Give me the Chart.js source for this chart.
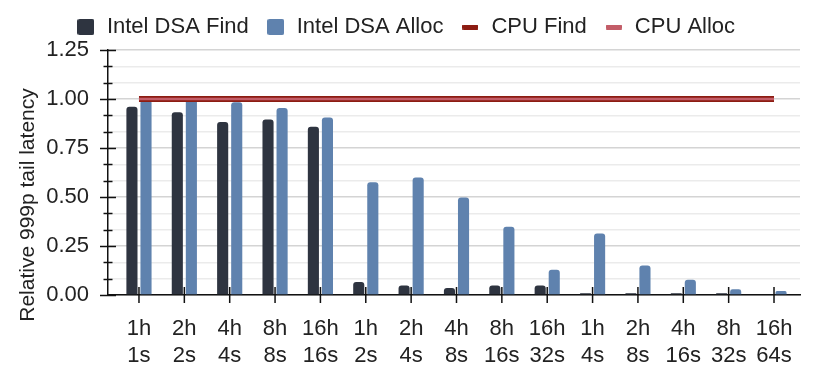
<!DOCTYPE html>
<html><head><meta charset="utf-8">
<script src="https://cdn.jsdelivr.net/npm/chart.js@4/dist/chart.umd.min.js"></script>
<style>html,body{margin:0;padding:0;background:#fff}</style>
</head><body>
<canvas id="c" width="814" height="387" style="display:block;width:814px;height:387px"></canvas>
<script>
// ---- data ----
const hosts  = ['1h','2h','4h','8h','16h','1h','2h','4h','8h','16h','1h','2h','4h','8h','16h'];
const shards = ['1s','2s','4s','8s','16s','2s','4s','8s','16s','32s','4s','8s','16s','32s','64s'];
const dsaFind  = [0.961,0.932,0.883,0.896,0.859,0.066,0.049,0.036,0.049,0.049,0.009,0.009,0.009,0.009,0.000];
const dsaAlloc = [0.995,0.998,0.983,0.954,0.905,0.575,0.600,0.498,0.348,0.129,0.314,0.150,0.078,0.029,0.020];
const cpuFind  = [1,1,1,1,1,1,1,1,1,1,1,1,1,1,1];
const cpuAlloc = [1,1,1,1,1,1,1,1,1,1,1,1,1,1,1];
const seriesNames = ['Intel DSA Find','Intel DSA Alloc','CPU Find','CPU Alloc'];
const yMajorTicks = [0,0.25,0.5,0.75,1.0,1.25];
const yTitleText = 'Relative 999p tail latency';

const FONT = '"Liberation Sans", Arial, sans-serif';
const TEXT = '#222';
const C_FIND = '#2e3440', C_ALLOC = '#5f82ae', C_CPUF = '#8c1c12', C_CPUA = '#c35d68';

function marker(w, h, color, r) {
  const c = document.createElement('canvas');
  c.width = w; c.height = h;
  const g = c.getContext('2d');
  g.fillStyle = color;
  g.beginPath();
  if (g.roundRect) g.roundRect(0, 0, w, h, r); else g.rect(0, 0, w, h);
  g.fill();
  return c;
}
const markers = [marker(17,16,C_FIND,2), marker(17,16,C_ALLOC,2), marker(16,5,C_CPUF,1), marker(16,5,C_CPUA,1)];

const isMajor = v => yMajorTicks.some(m => Math.abs(m - v) < 1e-6);

const axisTicks = {
  id: 'axisTicks',
  afterDatasetsDraw(chart) {
    const {ctx, scales: {x, y}, chartArea: a} = chart;
    ctx.save();
    ctx.strokeStyle = '#111';
    ctx.lineWidth = 1.5;
    y.ticks.forEach(t => {
      const py = Math.round(y.getPixelForValue(t.value)) + 0.5;
      const h = isMajor(t.value) ? 8 : 4.5;
      ctx.beginPath(); ctx.moveTo(a.left - h, py); ctx.lineTo(a.left + h, py); ctx.stroke();
    });
    x.ticks.forEach((t, i) => {
      const px = x.getPixelForTick(i);
      ctx.beginPath(); ctx.moveTo(px, a.bottom - 8); ctx.lineTo(px, a.bottom + 8); ctx.stroke();
    });
    ctx.restore();
  }
};

const yTitle = {
  id: 'yTitle',
  afterDraw(chart) {
    const {ctx, chartArea: a} = chart;
    ctx.save();
    ctx.translate(28, a.bottom - 90);
    ctx.rotate(-Math.PI / 2);
    ctx.font = '21px ' + FONT;
    ctx.fillStyle = TEXT;
    ctx.textAlign = 'center';
    ctx.textBaseline = 'middle';
    ctx.fillText(yTitleText, 0, 0);
    ctx.restore();
  }
};

// small spacer box between legend and plot area
const spacer = {
  id: 'spacer',
  start(chart) {
    const box = {
      position: 'top', weight: 500, fullSize: true, options: {},
      left: 0, top: 0, right: 0, bottom: 0, width: 0, height: 0,
      update(maxW) { this.width = maxW; this.height = 2; },
      isHorizontal() { return true; },
      getPadding() { return {left: 0, right: 0, top: 0, bottom: 0}; },
      draw() {}
    };
    Chart.layouts.addBox(chart, box);
  }
};

const barCommon = {
  order: 2, categoryPercentage: 0.62, barPercentage: 0.79,
  borderRadius: {topLeft: 3, topRight: 3, bottomLeft: 0, bottomRight: 0},
  borderSkipped: 'bottom', borderWidth: 0
};

new Chart(document.getElementById('c'), {
  type: 'bar',
  data: {
    labels: hosts.map((h, i) => [h, shards[i]]),
    datasets: [
      Object.assign({label: seriesNames[0], data: dsaFind, backgroundColor: C_FIND}, barCommon),
      Object.assign({label: seriesNames[1], data: dsaAlloc, backgroundColor: C_ALLOC}, barCommon),
      {type: 'line', label: seriesNames[2], data: cpuFind, borderColor: C_CPUF, borderWidth: 6, pointRadius: 0, order: 1, borderCapStyle: 'butt'},
      {type: 'line', label: seriesNames[3], data: cpuAlloc, borderColor: C_CPUA, borderWidth: 2.5, pointRadius: 0, order: 0, borderCapStyle: 'butt'}
    ]
  },
  options: {
    responsive: false, animation: false, devicePixelRatio: 1,
    layout: {padding: {left: 11, right: 14, top: -1, bottom: 0}},
    plugins: {
      tooltip: {enabled: false},
      legend: {
        position: 'top',
        labels: {
          usePointStyle: true, boxWidth: 20, boxHeight: 20, padding: 17,
          font: {size: 22, family: FONT}, color: TEXT,
          generateLabels: chart => chart.data.datasets.map((d, i) => ({
            text: d.label, pointStyle: markers[i], fillStyle: 'transparent', strokeStyle: 'transparent',
            lineWidth: 0, hidden: false, datasetIndex: i, fontColor: TEXT
          }))
        }
      }
    },
    scales: {
      x: {
        grid: {display: false, drawTicks: false},
        border: {color: '#111', width: 1.5},
        ticks: {font: {size: 22, family: FONT}, color: TEXT, padding: 21, maxRotation: 0, autoSkip: false},
        afterBuildTicks(s) { s._startValue = -0.683; s._valueRange = 15.256; },
        afterFit(s) { s.height = 92; }
      },
      y: {
        min: 0, max: 1.25,
        ticks: {
          stepSize: 1.25 / 15, autoSkip: false, padding: 19, font: {size: 22, family: FONT}, color: TEXT,
          callback: v => isMajor(v) ? v.toFixed(2) : ''
        },
        grid: {
          drawTicks: false, lineWidth: 1.5,
          color: c => (c.tick && isMajor(c.tick.value)) ? '#d4d4d4' : '#ebebeb'
        },
        border: {color: '#111', width: 1.5},
        afterFit(s) { s.width = 97; }
      }
    }
  },
  plugins: [axisTicks, yTitle, spacer]
});
</script>
</body></html>
